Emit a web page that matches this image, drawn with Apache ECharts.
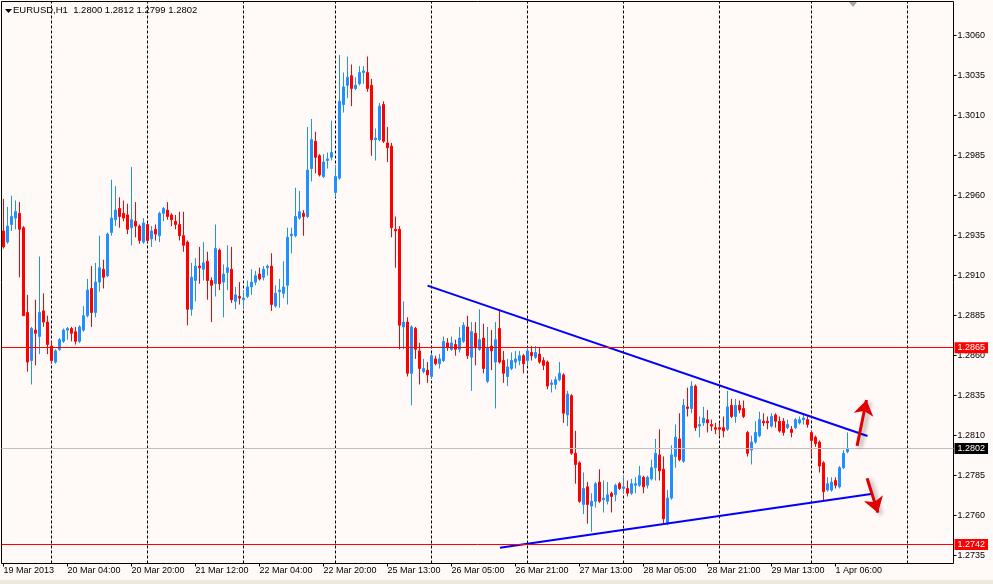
<!DOCTYPE html>
<html>
<head>
<meta charset="utf-8">
<script src="https://cdn.jsdelivr.net/npm/echarts@6/dist/echarts.min.js"></script>
<style>
html,body{margin:0;padding:0;background:#FFFAF7;}
#chart{width:993px;height:584px;}
</style>
</head>
<body>
<div id="chart"></div>
<script>
// ---------- data ----------
const symbolName = 'EURUSD,H1';

const open = [
1.2938,1.2931,1.2942,1.2946,1.2949,1.2940,1.2887,1.2857,1.2876,1.2872,
1.2888,1.2881,1.2866,1.2856,1.2864,1.2869,1.2876,1.2877,1.2875,1.2869,
1.2876,1.2885,1.2902,1.2887,1.2906,1.2914,1.2910,1.2937,1.2945,1.2952,
1.2949,1.2948,1.2940,1.2944,1.2941,1.2931,1.2942,1.2933,1.2939,1.2935,
1.2949,1.2951,1.2948,1.2944,1.2942,1.2935,1.2931,1.2889,1.2907,1.2916,
1.2914,1.2919,1.2907,1.2905,1.2926,1.2906,1.2912,1.2914,1.2894,1.2897,
1.2895,1.2897,1.2903,1.2906,1.2911,1.2909,1.2915,1.2916,1.2891,1.2900,
1.2899,1.2904,1.2935,1.2935,1.2946,1.2949,1.2947,1.2977,1.2994,1.2985,
1.2972,1.2982,1.2984,1.2962,1.2971,1.3017,1.3029,1.3035,1.3027,1.3030,
1.3037,1.3037,1.3029,1.2995,1.2995,1.3017,1.2993,1.2991,1.2939,1.2939,
1.2878,1.2881,1.2849,1.2877,1.2863,1.2850,1.2851,1.2847,1.2858,1.2855,
1.2857,1.2868,1.2864,1.2867,1.2864,1.2869,1.2878,1.2859,1.2874,1.2864,
1.2871,1.2844,1.2866,1.2856,1.2877,1.2857,1.2847,1.2852,1.2856,1.2857,
1.2860,1.2857,1.2862,1.2859,1.2861,1.2857,1.2856,1.2842,1.2842,1.2845,
1.2848,1.2823,1.2835,1.2799,1.2793,1.2767,1.2778,1.2766,1.2769,1.2781,
1.2770,1.2769,1.2774,1.2773,1.2780,1.2777,1.2777,1.2774,1.2779,1.2779,
1.2784,1.2779,1.2783,1.2790,1.2798,1.2789,1.2755,1.2771,1.2797,1.2808,
1.2794,1.2828,1.2827,1.2841,1.2816,1.2818,1.2820,1.2817,1.2815,1.2815,
1.2815,1.2814,1.2829,1.2822,1.2829,1.2827,1.2812,1.2801,1.2806,1.2810,
1.2819,1.2819,1.2816,1.2823,1.2819,1.2819,1.2815,1.2814,1.2815,1.2818,
1.2820,1.2820,1.2812,1.2809,1.2806,1.2793,1.2776,1.2776,1.2782,1.2778,
1.2790,1.2800
];
const high = [
1.2958,1.2953,1.2960,1.2957,1.2956,1.2941,1.2898,1.2878,1.2895,1.2922,
1.2899,1.2885,1.2869,1.2864,1.2871,1.2877,1.2878,1.2878,1.2878,1.2879,
1.2891,1.2908,1.2916,1.2918,1.2935,1.2920,1.2937,1.2970,1.2966,1.2959,
1.2957,1.2955,1.2978,1.2956,1.2942,1.2946,1.2943,1.2941,1.2942,1.2950,
1.2953,1.2956,1.2949,1.2948,1.2950,1.2950,1.2932,1.2918,1.2921,1.2928,
1.2931,1.2925,1.2909,1.2942,1.2927,1.2917,1.2929,1.2928,1.2903,1.2906,
1.2901,1.2907,1.2914,1.2913,1.2915,1.2916,1.2917,1.2924,1.2904,1.2908,
1.2919,1.2940,1.2940,1.2965,1.2963,1.2951,1.3003,1.3008,1.3000,1.2986,
1.2986,1.2987,1.3007,1.2979,1.3048,1.3037,1.3047,1.3042,1.3034,1.3041,
1.3041,1.3047,1.3033,1.3002,1.3018,1.3019,1.3003,1.2993,1.2947,1.2941,
1.2894,1.2884,1.2879,1.2878,1.2868,1.2858,1.2856,1.2861,1.2860,1.2861,
1.2872,1.2871,1.2872,1.2870,1.2878,1.2881,1.2885,1.2881,1.2881,1.2889,
1.2880,1.2878,1.2876,1.2881,1.2889,1.2863,1.2858,1.2862,1.2863,1.2863,
1.2861,1.2865,1.2866,1.2866,1.2865,1.2859,1.2857,1.2845,1.2847,1.2856,
1.2849,1.2838,1.2836,1.2813,1.2794,1.2787,1.2781,1.2774,1.2781,1.2789,
1.2782,1.2781,1.2775,1.2780,1.2781,1.2785,1.2782,1.2783,1.2784,1.2791,
1.2785,1.2785,1.2795,1.2808,1.2814,1.2797,1.2776,1.2804,1.2817,1.2824,
1.2833,1.2840,1.2844,1.2842,1.2822,1.2828,1.2826,1.2820,1.2818,1.2818,
1.2822,1.2838,1.2833,1.2833,1.2832,1.2832,1.2813,1.2810,1.2819,1.2825,
1.2824,1.2822,1.2824,1.2824,1.2822,1.2821,1.2820,1.2816,1.2821,1.2822,
1.2824,1.2822,1.2813,1.2810,1.2807,1.2794,1.2784,1.2784,1.2784,1.2791,
1.2801,1.2812
];
const low = [
1.2927,1.2930,1.2938,1.2939,1.2909,1.2885,1.2850,1.2842,1.2854,1.2861,
1.2878,1.2861,1.2855,1.2855,1.2863,1.2868,1.2870,1.2869,1.2867,1.2868,
1.2875,1.2884,1.2878,1.2884,1.2900,1.2902,1.2909,1.2935,1.2941,1.2940,
1.2944,1.2936,1.2929,1.2934,1.2930,1.2930,1.2931,1.2928,1.2932,1.2931,
1.2944,1.2945,1.2941,1.2939,1.2932,1.2925,1.2879,1.2885,1.2894,1.2905,
1.2907,1.2895,1.2881,1.2897,1.2901,1.2884,1.2901,1.2893,1.2889,1.2892,
1.2889,1.2896,1.2898,1.2904,1.2907,1.2907,1.2910,1.2888,1.2890,1.2890,
1.2896,1.2892,1.2924,1.2934,1.2945,1.2935,1.2946,1.2969,1.2974,1.2972,
1.2971,1.2977,1.2982,1.2959,1.2970,1.3012,1.3021,1.3016,1.3026,1.3029,
1.3030,1.3025,1.2985,1.2982,1.2994,1.2993,1.2981,1.2934,1.2915,1.2864,
1.2864,1.2847,1.2829,1.2858,1.2842,1.2849,1.2843,1.2846,1.2854,1.2852,
1.2856,1.2863,1.2863,1.2860,1.2862,1.2868,1.2858,1.2838,1.2854,1.2863,
1.2849,1.2843,1.2851,1.2827,1.2855,1.2843,1.2841,1.2851,1.2852,1.2854,
1.2849,1.2854,1.2857,1.2858,1.2855,1.2851,1.2839,1.2837,1.2839,1.2844,
1.2818,1.2816,1.2798,1.2780,1.2768,1.2761,1.2755,1.2750,1.2765,1.2768,
1.2762,1.2767,1.2762,1.2769,1.2776,1.2774,1.2772,1.2773,1.2774,1.2778,
1.2774,1.2777,1.2782,1.2782,1.2782,1.2755,1.2754,1.2770,1.2790,1.2794,
1.2793,1.2822,1.2824,1.2813,1.2809,1.2816,1.2812,1.2813,1.2811,1.2810,
1.2809,1.2813,1.2821,1.2818,1.2824,1.2821,1.2797,1.2792,1.2805,1.2809,
1.2816,1.2814,1.2815,1.2815,1.2812,1.2810,1.2814,1.2809,1.2814,1.2817,
1.2817,1.2815,1.2797,1.2803,1.2787,1.2769,1.2775,1.2775,1.2777,1.2777,
1.2789,1.2799
];
const close = [
1.2928,1.2941,1.2947,1.2950,1.2939,1.2885,1.2856,1.2877,1.2874,1.2887,
1.2881,1.2867,1.2857,1.2863,1.2870,1.2876,1.2877,1.2874,1.2869,1.2878,
1.2885,1.2901,1.2887,1.2906,1.2915,1.2909,1.2936,1.2946,1.2951,1.2947,
1.2946,1.2939,1.2945,1.2941,1.2932,1.2943,1.2932,1.2938,1.2936,1.2949,
1.2952,1.2947,1.2945,1.2942,1.2935,1.2929,1.2889,1.2909,1.2916,1.2915,
1.2918,1.2907,1.2904,1.2927,1.2905,1.2911,1.2915,1.2895,1.2898,1.2896,
1.2896,1.2903,1.2906,1.2910,1.2908,1.2914,1.2916,1.2892,1.2899,1.2901,
1.2903,1.2934,1.2936,1.2947,1.2950,1.2947,1.2976,1.2995,1.2984,1.2973,
1.2981,1.2983,1.2987,1.2972,1.3019,1.3028,1.3034,1.3027,1.3029,1.3037,
1.3038,1.3027,1.2995,1.2996,1.3016,1.2994,1.2990,1.2940,1.2938,1.2879,
1.2881,1.2849,1.2878,1.2864,1.2852,1.2852,1.2848,1.2860,1.2855,1.2858,
1.2869,1.2865,1.2868,1.2864,1.2871,1.2879,1.2860,1.2875,1.2865,1.2870,
1.2852,1.2865,1.2863,1.2870,1.2856,1.2849,1.2853,1.2857,1.2858,1.2860,
1.2855,1.2863,1.2860,1.2862,1.2856,1.2854,1.2841,1.2843,1.2845,1.2849,
1.2824,1.2836,1.2799,1.2792,1.2769,1.2777,1.2767,1.2769,1.2780,1.2769,
1.2771,1.2773,1.2772,1.2779,1.2777,1.2778,1.2774,1.2780,1.2780,1.2785,
1.2778,1.2784,1.2790,1.2799,1.2788,1.2758,1.2771,1.2798,1.2809,1.2795,
1.2829,1.2827,1.2841,1.2815,1.2817,1.2821,1.2818,1.2816,1.2814,1.2814,
1.2813,1.2828,1.2822,1.2829,1.2826,1.2822,1.2799,1.2806,1.2812,1.2820,
1.2818,1.2818,1.2822,1.2819,1.2813,1.2812,1.2817,1.2812,1.2820,1.2820,
1.2821,1.2817,1.2807,1.2805,1.2791,1.2775,1.2780,1.2781,1.2779,1.2790,
1.2799,1.2802
];

// trading sessions (start time, number of H1 bars)
const sessions = [['2013-03-19T12:00', 83], ['2013-03-25T00:00', 119], ['2013-04-01T00:00', 36]];
const tickLabels = ['19 Mar 2013','20 Mar 04:00','20 Mar 20:00','21 Mar 12:00','22 Mar 04:00','22 Mar 20:00',
  '25 Mar 13:00','26 Mar 05:00','26 Mar 21:00','27 Mar 13:00','28 Mar 05:00','28 Mar 21:00','29 Mar 13:00','1 Apr 06:00'];
const tickEvery = 16;
const priceTicks = [1.2735,1.2760,1.2785,1.2810,1.2835,1.2860,1.2885,1.2910,1.2935,1.2960,1.2985,1.3010,1.3035,1.3060];
const priceMin = 1.27301, priceMax = 1.30814;
const daySeparators = [12,36,60,83,107,131,155,179,202,226];
const redLevels = [1.2865, 1.2742];
const bidPrice = 1.2802;
const upperTrend = [[106, 1.29038], [216, 1.28098]];
const lowerTrend = [[124.1, 1.2740], [216.9, 1.27736]];
const arrows = [
  [[213.4, 1.28036], [215.75, 1.28323]],
  [[215.9, 1.27834], [218.6, 1.27619]]
];

// ---------- build ----------
const MONTHS = ['Jan','Feb','Mar','Apr','May','Jun','Jul','Aug','Sep','Oct','Nov','Dec'];
const categories = [];
sessions.forEach(([start, n]) => {
  const t0 = new Date(start + ':00Z').getTime();
  for (let k = 0; k < n; k++) {
    const d = new Date(t0 + k * 3600000);
    categories.push(d.getUTCDate() + ' ' + MONTHS[d.getUTCMonth()] + ' ' + String(d.getUTCHours()).padStart(2, '0') + ':00');
  }
});
const nBars = open.length;
const candles = open.map((o, i) => [o, close[i], low[i], high[i]]);
const FONT = 'Liberation Sans';
const showTick = (i) => i % tickEvery === 0 && i < nBars;
const last = nBars - 1;
const headerText = symbolName + '  ' + [open[last], high[last], low[last], close[last]].map(v => v.toFixed(4)).join(' ');

const levelLabel = (bg, v) => ({
  show: true, position: 'end', distance: 1, formatter: v.toFixed(4),
  backgroundColor: bg, color: '#FFFFFF', padding: [1, 3, 0, 3],
  fontSize: 9, fontFamily: FONT, lineHeight: 10
});

const chart = echarts.init(document.getElementById('chart'), null, {renderer: 'canvas'});
chart.setOption({
  animation: false,
  backgroundColor: '#FFFAF7',
  grid: {left: 1.5, top: 1.5, width: 952, height: 562, show: true,
         borderColor: '#000000', borderWidth: 1, backgroundColor: '#FFFAF7'},
  xAxis: [{
    type: 'category', data: categories, boundaryGap: true,
    axisLine: {show: false, onZero: false},
    axisTick: {show: true, alignWithLabel: true, interval: showTick, length: 3, lineStyle: {color: '#000'}},
    axisLabel: {interval: showTick, formatter: (v, i) => tickLabels[i / tickEvery] || '',
                align: 'left', margin: 3, fontSize: 9, fontFamily: FONT, color: '#000'},
    splitLine: {show: false}
  }, {
    type: 'value', min: -0.5, max: categories.length - 0.5, show: false,
    axisLine: {onZero: false}
  }],
  yAxis: {
    type: 'value', position: 'right', min: priceMin, max: priceMax,
    axisLine: {show: false, onZero: false},
    axisTick: {show: true, customValues: priceTicks, length: 3, inside: false, lineStyle: {color: '#000'}},
    axisLabel: {customValues: priceTicks, formatter: v => v.toFixed(4), margin: 4,
                fontSize: 9, fontFamily: FONT, color: '#000'},
    splitLine: {show: false}
  },
  graphic: [
    {type: 'polygon', shape: {points: [[5, 9], [12, 9], [8.5, 13]]}, style: {fill: '#000'}},
    {type: 'text', left: 13, top: 5, style: {text: headerText, font: '9.5px "Liberation Sans"', fill: '#000'}},
    {type: 'polygon', shape: {points: [[849, 2], [857, 2], [853, 7]]}, style: {fill: '#A8A8A8'}},
    {type: 'rect', shape: {x: 0, y: 580, width: 993, height: 4}, style: {fill: '#ECE9D8'}}
  ],
  series: [
    {
      type: 'line', xAxisIndex: 1, data: daySeparators.map(d => [d, null]), showSymbol: false, silent: true,
      markLine: {
        z: 1, silent: true, symbol: 'none', animation: false, precision: 4,
        label: {show: false},
        lineStyle: {color: '#000000', width: 1, type: [3, 2]},
        data: daySeparators.map(d => ({xAxis: d}))
      }
    },
    {
      type: 'candlestick', xAxisIndex: 0, data: candles, barWidth: 2, z: 2, silent: true,
      itemStyle: {color: '#1E90FF', color0: '#FF0000', borderColor: '#1E90FF', borderColor0: '#FF0000', borderWidth: 1}
    },
    {
      type: 'line', xAxisIndex: 1, data: upperTrend, showSymbol: false, symbol: 'none', z: 3, silent: true,
      lineStyle: {color: '#0000FF', width: 2}
    },
    {
      type: 'line', xAxisIndex: 1, data: lowerTrend, showSymbol: false, symbol: 'none', z: 3, silent: true,
      lineStyle: {color: '#0000FF', width: 2},
      markLine: {
        z: 5, silent: true, symbol: 'none', animation: false, precision: 5,
        data: [
          ...redLevels.map(v => ({yAxis: v, lineStyle: {color: '#FF0000', width: 1, type: 'solid'},
                                  label: levelLabel('#FF0000', v)})),
          {yAxis: bidPrice, lineStyle: {color: '#C0C0C0', width: 1, type: 'solid'},
           label: levelLabel('#000000', bidPrice)}
        ]
      }
    },
    {
      type: 'lines', coordinateSystem: 'cartesian2d', xAxisIndex: 1, yAxisIndex: 0, z: 6, silent: true,
      symbol: ['none', 'arrow'], symbolSize: [10, 15],
      lineStyle: {color: '#E00000', width: 3, opacity: 1, curveness: 0,
                  shadowColor: 'rgba(0,0,0,0.35)', shadowBlur: 4, shadowOffsetX: 3, shadowOffsetY: 2},
      itemStyle: {color: '#E00000'},
      data: arrows.map(c => ({coords: c}))
    }
  ]
});
</script>
</body>
</html>
